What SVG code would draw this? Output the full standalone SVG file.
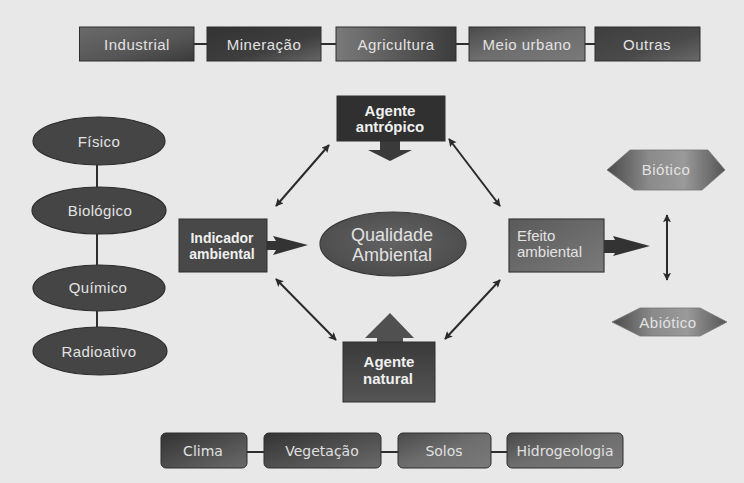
<svg xmlns="http://www.w3.org/2000/svg" width="744" height="483" viewBox="0 0 744 483">
<defs>
<style>
.t{font-family:"Liberation Sans",Arial,sans-serif;fill:#e2e2e2;text-anchor:middle}
.top{font-size:15px;letter-spacing:0.5px}
.ell{font-size:15px;letter-spacing:0.4px}
.bot{font-family:"DejaVu Sans",Verdana,sans-serif;font-size:14px;fill:#e0e0e0;text-anchor:middle}
.b{font-weight:bold;fill:#f0f0f0}
.box{stroke:#2e2e2e;stroke-width:1}
.eo{fill:#454545;stroke:#2c2c2c;stroke-width:1.2}
.ln{stroke:#2e2e2e;stroke-width:2;fill:none}
.da{stroke:#2a2a2a;stroke-width:2;fill:none;marker-start:url(#ah);marker-end:url(#ah)}
</style>
<marker id="ah" viewBox="0 0 10 10" refX="9" refY="5" markerWidth="10" markerHeight="8" markerUnits="userSpaceOnUse" orient="auto-start-reverse">
<path d="M0,0 L10,5 L0,10 L2,5 z" fill="#2a2a2a"/>
</marker>
<linearGradient id="g1" x1="0" y1="0" x2="1" y2="1"><stop offset="0" stop-color="#6a6a6a"/><stop offset="0.6" stop-color="#555"/><stop offset="1" stop-color="#3a3a3a"/></linearGradient>
<linearGradient id="g2" x1="0" y1="0" x2="1" y2="1"><stop offset="0" stop-color="#333"/><stop offset="0.6" stop-color="#3e3e3e"/><stop offset="1" stop-color="#666"/></linearGradient>
<linearGradient id="g3" x1="0" y1="0" x2="1" y2="0"><stop offset="0" stop-color="#7a7a7a"/><stop offset="0.5" stop-color="#5a5a5a"/><stop offset="1" stop-color="#3c3c3c"/></linearGradient>
<linearGradient id="g4" x1="0" y1="0" x2="1" y2="1"><stop offset="0" stop-color="#4a4a4a"/><stop offset="0.5" stop-color="#6e6e6e"/><stop offset="1" stop-color="#7a7a7a"/></linearGradient>
<linearGradient id="g5" x1="0" y1="0" x2="1" y2="1"><stop offset="0" stop-color="#3e3e3e"/><stop offset="0.6" stop-color="#4a4a4a"/><stop offset="1" stop-color="#6a6a6a"/></linearGradient>
<linearGradient id="gh" x1="0" y1="0" x2="1" y2="0"><stop offset="0" stop-color="#4a4a4a"/><stop offset="0.35" stop-color="#8a8a8a"/><stop offset="0.65" stop-color="#9a9a9a"/><stop offset="1" stop-color="#555"/></linearGradient>
<linearGradient id="gb" x1="0" y1="0" x2="1" y2="1"><stop offset="0" stop-color="#333"/><stop offset="1" stop-color="#6a6a6a"/></linearGradient>
<linearGradient id="gn" x1="0" y1="0" x2="0" y2="1"><stop offset="0" stop-color="#3a3a3a"/><stop offset="1" stop-color="#555"/></linearGradient>
<linearGradient id="ge" x1="0" y1="0" x2="1" y2="1"><stop offset="0" stop-color="#5a5a5a"/><stop offset="1" stop-color="#7a7a7a"/></linearGradient>
<radialGradient id="gq" cx="0.5" cy="0.45" r="0.6"><stop offset="0" stop-color="#636363"/><stop offset="1" stop-color="#4a4a4a"/></radialGradient>
</defs>
<rect x="0" y="0" width="744" height="483" fill="#e8e8e8"/>

<g id="connectors">
<line class="ln" x1="194" y1="44" x2="207" y2="44"/>
<line class="ln" x1="321" y1="44" x2="336" y2="44"/>
<line class="ln" x1="456" y1="44" x2="469" y2="44"/>
<line class="ln" x1="585" y1="44" x2="595" y2="44"/>
<line class="ln" x1="97" y1="165" x2="97" y2="187" stroke-width="1.5"/>
<line class="ln" x1="97" y1="234" x2="97" y2="265" stroke-width="1.5"/>
<line class="ln" x1="97" y1="311" x2="97" y2="327" stroke-width="1.5"/>
<line class="ln" x1="247" y1="452" x2="264" y2="452"/>
<line class="ln" x1="381" y1="452" x2="398" y2="452"/>
<line class="ln" x1="491" y1="452" x2="507" y2="452"/>
<line class="da" x1="276" y1="206" x2="329" y2="145"/>
<line class="da" x1="449" y1="139" x2="500" y2="206"/>
<line class="da" x1="276" y1="279" x2="336" y2="340"/>
<line class="da" x1="500" y1="280" x2="445" y2="339"/>
<line class="da" x1="667" y1="215" x2="667" y2="280"/>
<path d="M267,241 L276,241 L273,236 L308,245 L273,255 L276,250 L267,250 z" fill="#333"/>
<path d="M604,240 L615,240 L613,236 L650,246 L613,256 L615,253 L604,253 z" fill="#333"/>
<path d="M380,141 L400,141 L400,150 L412,150 L390,161 L368,150 L380,150 z" fill="#3a3a3a"/>
<path d="M390,313 L414,338 L403,338 L403,342 L377,342 L377,338 L365,338 z" fill="#505050"/>
</g>

<g id="industrial"><rect class="box" x="79.5" y="27" width="114.5" height="34" fill="url(#g1)"/><text class="t top" x="137" y="49.5">Industrial</text></g>
<g id="mineracao"><rect class="box" x="207" y="27" width="114" height="34" fill="url(#g2)"/><text class="t top" x="264" y="49.5">Mineração</text></g>
<g id="agricultura"><rect class="box" x="336" y="27" width="120" height="34" fill="url(#g3)"/><text class="t top" x="396" y="49.5">Agricultura</text></g>
<g id="meio-urbano"><rect class="box" x="469" y="27" width="116" height="34" fill="url(#g4)"/><text class="t top" x="527" y="49.5">Meio urbano</text></g>
<g id="outras"><rect class="box" x="595" y="27" width="105" height="34" fill="url(#g5)"/><text class="t top" x="647" y="49.5">Outras</text></g>

<g id="fisico"><ellipse class="eo" cx="99" cy="141" rx="66" ry="24"/><text class="t ell" x="99" y="147">Físico</text></g>
<g id="biologico"><ellipse class="eo" cx="99" cy="210.5" rx="67" ry="23.5"/><text class="t ell" x="100" y="216">Biológico</text></g>
<g id="quimico"><ellipse class="eo" cx="99" cy="288" rx="66" ry="23"/><text class="t ell" x="98" y="293">Químico</text></g>
<g id="radioativo"><ellipse class="eo" cx="100" cy="351" rx="67" ry="24"/><text class="t ell" x="99" y="357">Radioativo</text></g>

<g id="indicador-ambiental"><rect class="box" x="179" y="219" width="88" height="53" fill="#484848"/><text class="t b" font-size="14" x="222" y="243">Indicador</text><text class="t b" font-size="14" x="222" y="259">ambiental</text></g>

<g id="agente-antropico"><rect class="box" x="337" y="96" width="108" height="45" fill="#303030"/><text class="t b" font-size="15" x="390" y="116">Agente</text><text class="t b" font-size="15" x="390" y="132">antrópico</text></g>

<g id="qualidade-ambiental"><ellipse cx="393" cy="244" rx="73" ry="32" fill="url(#gq)" stroke="#3a3a3a" stroke-width="1.2"/><text class="t" font-size="18" fill="#d4d4d4" x="392" y="241">Qualidade</text><text class="t" font-size="18" fill="#d4d4d4" x="392" y="261">Ambiental</text></g>

<g id="agente-natural"><rect class="box" x="343" y="342" width="92" height="60" fill="url(#gn)"/><text class="t b" font-size="15" x="389" y="367">Agente</text><text class="t b" font-size="15" x="388" y="384">natural</text></g>

<g id="efeito-ambiental"><rect x="509" y="219" width="95" height="53" fill="url(#ge)" stroke="#3a3a3a" stroke-width="1.2"/><text class="t" font-size="15" fill="#dcdcdc" x="517" y="241" style="text-anchor:start">Efeito</text><text class="t" font-size="15" fill="#dcdcdc" x="517" y="257" style="text-anchor:start">ambiental</text></g>

<g id="biotico"><polygon points="607,170 630,150 708,150 725,170 702,190 634,190" fill="url(#gh)" stroke="#777" stroke-width="0.8"/><text class="t" font-size="15" letter-spacing="0.5" x="666" y="175">Biótico</text></g>
<g id="abiotico"><polygon points="612,322 640,308 700,308 727,322 700,336 640,336" fill="url(#gh)" stroke="#777" stroke-width="0.8"/><text class="t" font-size="15" letter-spacing="0.5" x="668" y="328">Abiótico</text></g>

<g id="clima"><rect class="box" x="161" y="433" width="86" height="35" rx="5" fill="url(#gb)"/><text class="bot" x="203" y="456">Clima</text></g>
<g id="vegetacao"><rect class="box" x="264" y="433" width="117" height="35" rx="5" fill="url(#gb)"/><text class="bot" x="322" y="456">Vegetação</text></g>
<g id="solos"><rect class="box" x="398" y="433" width="93" height="35" rx="5" fill="url(#g4)"/><text class="bot" x="444" y="456">Solos</text></g>
<g id="hidrogeologia"><rect class="box" x="507" y="433" width="116" height="35" rx="5" fill="url(#g4)"/><text class="bot" x="565" y="456">Hidrogeologia</text></g>
</svg>
